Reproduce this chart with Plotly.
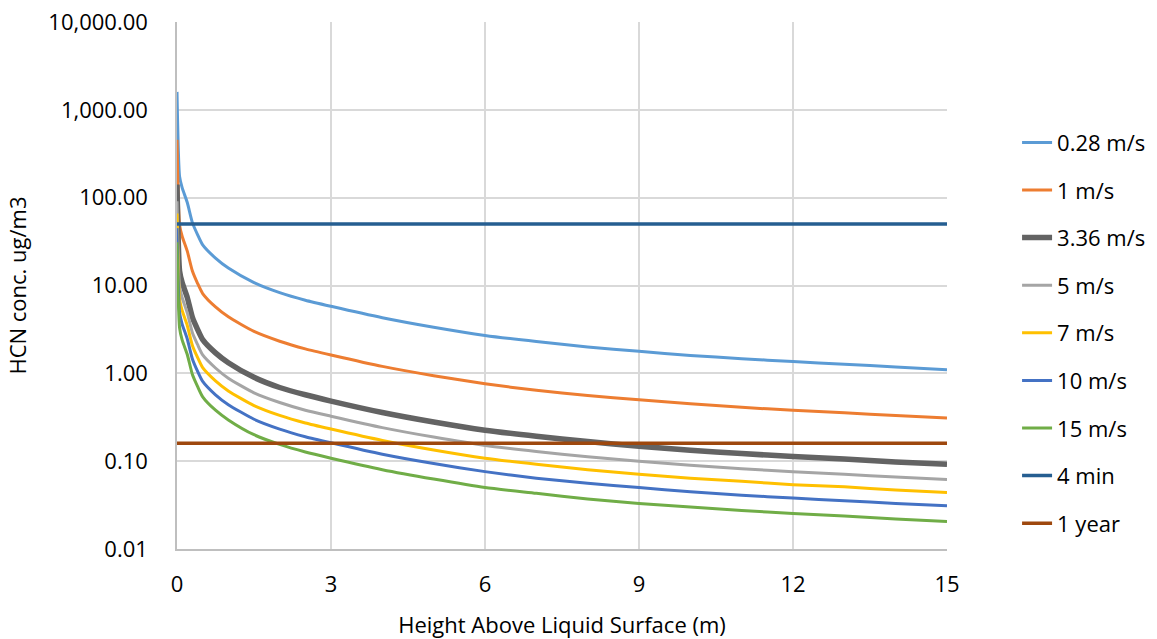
import plotly.graph_objects as go

# Heights above liquid surface (m)
heights = [0, 0.05, 0.1, 0.2, 0.3, 0.4, 0.5, 0.75, 1, 1.5, 2, 2.5, 3, 4, 5, 6, 7, 8, 9, 10, 11, 12, 13, 14, 15]

# HCN concentration (ug/m3) per wind speed
conc_028 = [1600, 175, 130, 88, 52, 38, 29, 20.5, 15.8, 10.8, 8.3, 6.8, 5.8, 4.3, 3.35, 2.7, 2.3, 2.0, 1.78, 1.6, 1.47, 1.36, 1.27, 1.18, 1.1]
conc_1 = [457, 49, 36.4, 24.6, 14.6, 10.6, 8.1, 5.7, 4.4, 3.0, 2.32, 1.9, 1.62, 1.2, 0.94, 0.76, 0.64, 0.56, 0.5, 0.45, 0.41, 0.38, 0.355, 0.33, 0.31]
conc_336 = [141, 14.6, 10.8, 7.3, 4.33, 3.17, 2.42, 1.71, 1.32, 0.9, 0.69, 0.57, 0.483, 0.358, 0.279, 0.225, 0.192, 0.167, 0.148, 0.133, 0.122, 0.113, 0.106, 0.098, 0.092]
conc_5 = [91, 9.8, 7.3, 4.9, 2.9, 2.13, 1.62, 1.15, 0.88, 0.6, 0.465, 0.38, 0.325, 0.241, 0.188, 0.151, 0.129, 0.112, 0.1, 0.09, 0.082, 0.076, 0.071, 0.066, 0.062]
conc_7 = [66, 7.0, 5.2, 3.5, 2.08, 1.52, 1.16, 0.82, 0.63, 0.43, 0.332, 0.272, 0.232, 0.172, 0.134, 0.108, 0.092, 0.08, 0.071, 0.064, 0.059, 0.054, 0.051, 0.047, 0.044]
conc_10 = [45, 4.9, 3.64, 2.46, 1.46, 1.06, 0.81, 0.57, 0.44, 0.3, 0.232, 0.19, 0.162, 0.12, 0.094, 0.076, 0.064, 0.056, 0.05, 0.045, 0.041, 0.038, 0.0355, 0.033, 0.031]
conc_15 = [31, 3.3, 2.4, 1.64, 0.97, 0.71, 0.54, 0.38, 0.295, 0.2, 0.155, 0.127, 0.108, 0.08, 0.0625, 0.05, 0.043, 0.037, 0.033, 0.03, 0.0275, 0.0254, 0.0237, 0.022, 0.0205]

# Reference limits
limit_x = [0, 15]
limit_4min = [50, 50]
limit_1year = [0.16, 0.16]

series_names = ["0.28 m/s", "1 m/s", "3.36 m/s", "5 m/s", "7 m/s", "10 m/s", "15 m/s"]
series_vals = [conc_028, conc_1, conc_336, conc_5, conc_7, conc_10, conc_15]
series_colors = ["#5B9BD5", "#ED7D31", "#636363", "#A5A5A5", "#FFC000", "#4472C4", "#70AD47"]
series_widths = [3, 3, 5.5, 3, 3, 3, 3]

y_ticks = [0.01, 0.1, 1, 10, 100, 1000, 10000]
x_ticks = [0, 3, 6, 9, 12, 15]

FONT = "Open Sans"

fig = go.Figure()
for i, (name, vals, col, w) in enumerate(zip(series_names, series_vals, series_colors, series_widths)):
    fig.add_trace(go.Scatter(x=heights, y=vals, mode="lines", name=name,
                             line=dict(color=col, width=w, shape="spline", smoothing=0.6),
                             legendgroup=f"g{i}"))

fig.add_trace(go.Scatter(x=limit_x, y=limit_4min, mode="lines", name="4 min",
                         line=dict(color="#255E91", width=3.5), legendgroup="g7"))
fig.add_trace(go.Scatter(x=limit_x, y=limit_1year, mode="lines", name="1 year",
                         line=dict(color="#9E480E", width=3.5), legendgroup="g8"))

fig.update_layout(
    width=1157, height=639,
    margin=dict(l=177, r=210, t=22, b=90, autoexpand=False),
    paper_bgcolor="white", plot_bgcolor="white",
    font=dict(family=FONT, size=22, color="#000000"),
    showlegend=True,
    legend=dict(x=1.091, y=0.811, xanchor="left", yanchor="top",
                font=dict(family=FONT, size=22, color="#000000"),
                tracegroupgap=16, bgcolor="rgba(0,0,0,0)"),
    xaxis=dict(range=[0, 15], tickvals=x_ticks, ticktext=[str(v) for v in x_ticks],
               showgrid=True, gridcolor="#D9D9D9", gridwidth=1.5,
               showline=True, linecolor="#BFBFBF", linewidth=1.5,
               zeroline=False, ticks="", ticklabelstandoff=15, automargin=False,
               title=dict(text="Height Above Liquid Surface (m)", font=dict(family=FONT, size=22), standoff=20)),
    yaxis=dict(type="log", range=[-2, 4], tickvals=y_ticks, tickformat=",.2f",
               showgrid=True, gridcolor="#D9D9D9", gridwidth=1.5,
               showline=True, linecolor="#BFBFBF", linewidth=1.5,
               zeroline=False, ticks="", ticklabelstandoff=23, automargin=False,
               title=dict(text="HCN conc. ug/m3", font=dict(family=FONT, size=22), standoff=16)),
)

fig.write_html("out.html")
